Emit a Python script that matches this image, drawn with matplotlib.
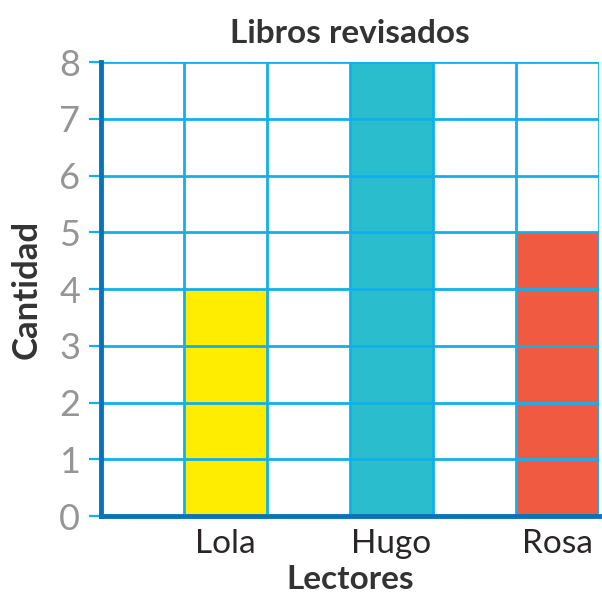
import matplotlib
matplotlib.use("Agg")
import matplotlib.pyplot as plt

# lectores y libros revisados
readers = ["Lola", "Hugo", "Rosa"]
books = [4, 8, 5]
bar_colors = ["#ffed00", "#29bdcd", "#f05a40"]
y_ticks = list(range(0, 9))

grid_color = "#12b0ea"
axis_color = "#0a72b8"

plt.rcParams["font.family"] = ["Lato", "DejaVu Sans"]

fig = plt.figure(figsize=(6.02, 5.93), dpi=100)
ax = fig.add_axes([0.1678, 0.1298, 0.8272, 0.7656])

# each reader sits in every second column of the grid
centers = [2 * i + 1.5 for i in range(len(readers))]
ax.bar(centers, books, width=1.0, color=bar_colors, zorder=1)

ax.set_xlim(0, 6)
ax.set_ylim(0, 8)
for x in range(0, 7):
    ax.axvline(x, color=grid_color, lw=2, zorder=2)
for y in y_ticks:
    ax.axhline(y, color=grid_color, lw=2, zorder=2)

ax.set_xticks(centers)
ax.set_xticklabels(readers, fontsize=24, color="#2a2627")
ax.set_yticks(y_ticks)
ax.set_yticklabels([str(v) for v in y_ticks], fontsize=26, color="#959595")
ax.tick_params(axis="x", length=0, pad=9)
ax.tick_params(axis="y", length=9, width=1.6, color=grid_color, pad=6)

for side in ["top", "right"]:
    ax.spines[side].set_visible(False)
for side in ["left", "bottom"]:
    ax.spines[side].set_color(axis_color)
    ax.spines[side].set_linewidth(3.5)
    ax.spines[side].set_zorder(3)

ax.set_title("Libros revisados", fontsize=24, fontweight="bold",
             color="#333333", pad=14)
ax.set_xlabel("Lectores", fontsize=24, fontweight="bold", color="#333333",
              labelpad=5)
ax.set_ylabel("Cantidad", fontsize=25, fontweight="bold", color="#333333",
              labelpad=12)

fig.savefig("out.png", dpi=100)
